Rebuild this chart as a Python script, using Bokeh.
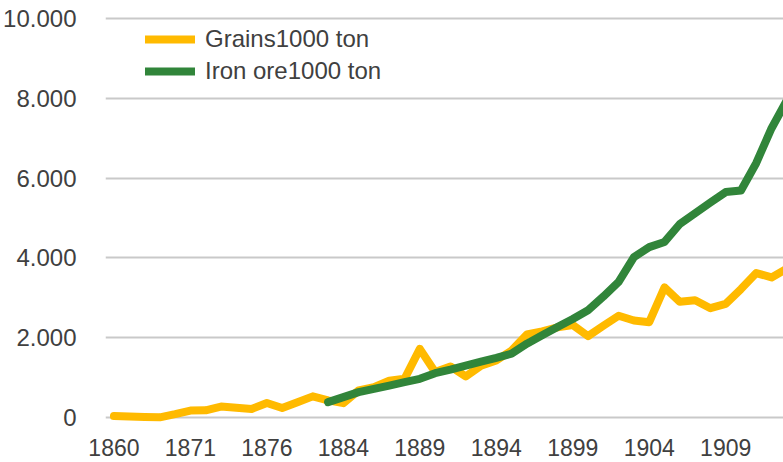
import math
from bokeh.plotting import figure
from bokeh.models import Range1d, FixedTicker, Legend, LegendItem, ColumnDataSource
from bokeh.embed import file_html
from bokeh.resources import INLINE

# ---- data ----
years = ["1860", "1865", "1867", "1869", "1870", "1871", "1872", "1873", "1874", "1875",
         "1876", "1878", "1880", "1882", "1883", "1884", "1885", "1886", "1887", "1888",
         "1889", "1890", "1891", "1892", "1893", "1894", "1895", "1896", "1897", "1898",
         "1899", "1900", "1901", "1902", "1903", "1904", "1905", "1906", "1907", "1908",
         "1909", "1910", "1911", "1912", "1913"]

grains = [35, 25, 15, 5, 85, 175, 180, 275, 245, 215,
          365, 240, 385, 530, 430, 360, 680, 760, 925, 970,
          1720, 1140, 1280, 1030, 1300, 1430, 1680, 2080, 2160, 2260,
          2320, 2040, 2300, 2550, 2430, 2390, 3260, 2900, 2940, 2740,
          2850, 3220, 3620, 3510, 3730]

nan = float("nan")
iron = [nan, nan, nan, nan, nan, nan, nan, nan, nan, nan,
        nan, nan, nan, nan, 385, 510, 635, 720, 800, 885,
        970, 1110, 1200, 1300, 1400, 1495, 1600, 1850, 2060, 2270,
        2470, 2690, 3030, 3400, 4020, 4270, 4400, 4850, 5120, 5390,
        5650, 5690, 6380, 7250, 7950]

series_names = ["Grains1000 ton", "Iron ore1000 ton"]
series_colors = ["#FFBA00", "#31853A"]

x_tick_positions = [0, 5, 10, 15, 20, 25, 30, 35, 40]
y_ticks = [0, 2000, 4000, 6000, 8000, 10000]
y_tick_labels = ["0", "2.000", "4.000", "6.000", "8.000", "10.000"]

idx = list(range(len(years)))
source = ColumnDataSource(dict(x=idx, year=years, grains=grains, iron=iron))

FONT = "Liberation Sans"
TEXT_COLOR = "#404040"

p = figure(width=783, height=462, output_backend="svg", toolbar_location=None,
           x_range=Range1d(-0.553, 43.78), y_range=Range1d(-150, 10100),
           min_border_left=102, min_border_right=0, min_border_top=14, min_border_bottom=39)
p.outline_line_color = None
p.background_fill_color = "white"
p.border_fill_color = "white"

r1 = p.line("x", "grains", source=source, line_width=8, line_color=series_colors[0],
            line_cap="round", line_join="round")
r2 = p.line("x", "iron", source=source, line_width=8, line_color=series_colors[1],
            line_cap="round", line_join="round")

# axes
p.xaxis.ticker = FixedTicker(ticks=x_tick_positions)
p.xaxis.major_label_overrides = {i: years[i] for i in x_tick_positions}
p.xaxis.axis_line_color = None
p.xaxis.major_tick_line_color = None
p.xaxis.minor_tick_line_color = None
p.xaxis.major_label_text_font = FONT
p.xaxis.major_label_text_font_size = "23px"
p.xaxis.major_label_text_color = TEXT_COLOR
p.xaxis.major_label_standoff = 9

p.yaxis.ticker = FixedTicker(ticks=y_ticks)
p.yaxis.major_label_overrides = {v: s for v, s in zip(y_ticks, y_tick_labels)}
p.yaxis.axis_line_color = None
p.yaxis.major_tick_line_color = None
p.yaxis.minor_tick_line_color = None
p.yaxis.major_label_text_font = FONT
p.yaxis.major_label_text_font_size = "24px"
p.yaxis.major_label_text_color = TEXT_COLOR
p.yaxis.major_label_standoff = 23

p.xgrid.grid_line_color = None
p.ygrid.ticker = FixedTicker(ticks=y_ticks)
p.ygrid.grid_line_color = "#C9C9C9"
p.ygrid.grid_line_width = 2

legend = Legend(items=[LegendItem(label=series_names[0], renderers=[r1]),
                       LegendItem(label=series_names[1], renderers=[r2])],
                location=(40, 336))
legend.border_line_color = None
legend.background_fill_alpha = 0
legend.padding = 0
legend.margin = 0
legend.spacing = 0
legend.glyph_width = 50
legend.glyph_height = 32
legend.label_height = 32
legend.label_standoff = 10
legend.label_text_font = FONT
legend.label_text_font_size = "24px"
legend.label_text_color = TEXT_COLOR
p.add_layout(legend)

open("out.html", "w").write(file_html(p, INLINE))
